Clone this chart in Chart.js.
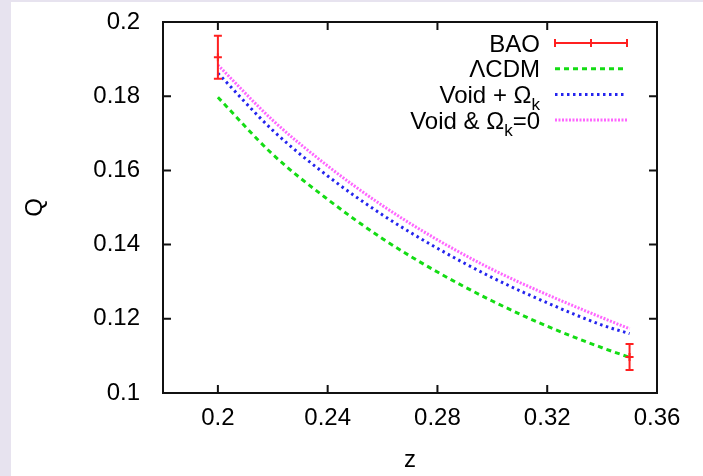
<!doctype html>
<html lang="en">
<head>
<meta charset="utf-8">
<title>Q against z</title>
<style>
  html, body { margin:0; padding:0; background:#e7e3ef; }
  #wrap { position:absolute; left:11px; top:2px; width:692px; height:474px; background:#fff; }
</style>
</head>
<body>
<div id="wrap"><canvas id="qChart" width="692" height="474"></canvas></div>
<script src="https://cdn.jsdelivr.net/npm/chart.js@4.4.0/dist/chart.umd.min.js"></script>
<script>
// values
var zValues   = [0.20, 0.22, 0.24, 0.26, 0.28, 0.30, 0.32, 0.34, 0.35];
var lcdmQ     = [0.1797, 0.1643, 0.1522, 0.1416, 0.1326, 0.1248, 0.1180, 0.1122, 0.1096];
var voidOkQ   = [0.1862, 0.1708, 0.1585, 0.1480, 0.1390, 0.1311, 0.1243, 0.1183, 0.1160];
var voidFlatQ = [0.1884, 0.1735, 0.1612, 0.1505, 0.1413, 0.1333, 0.1265, 0.1203, 0.1173];

var baoZ   = [0.20, 0.35];
var baoQ   = [0.1905, 0.1097];
var baoErr = [0.0058, 0.0035];

var xTicks = [0.2, 0.24, 0.28, 0.32, 0.36];
var yTicks = [0.1, 0.12, 0.14, 0.16, 0.18, 0.2];

var FONT = '"Liberation Sans", Arial, sans-serif';
var RED = '#ff2020', GREEN = '#14dc14', BLUE = '#2424ee', PINK = '#ff66ff';

function pairs(xs, ys) {
	return xs.map(function(x, i) { return {x:x, y:ys[i]}; });
}
function fmt(v) {
	return String(Number(v.toFixed(2)));
}

var series = [
	{label:'BAO', color:RED, dash:null},
	{label:'ΛCDM', color:GREEN, dash:[5, 4]},
	{label:'Void + Ωk', color:BLUE, dash:[2.5, 3.5]},
	{label:'Void & Ωk=0', color:PINK, dash:[2, 1.5]}
];

var legendText = [
	[{t:'BAO'}],
	[{t:'ΛCDM'}],
	[{t:'Void + Ω'}, {t:'k', sub:true}],
	[{t:'Void & Ω'}, {t:'k', sub:true}, {t:'=0'}]
];

var framePlugin = {
	id:'gnuFrame',
	afterDatasetsDraw:function(chart)
	{
		var ctx = chart.ctx;
		var a = chart.chartArea;
		var xs = chart.scales.x, ys = chart.scales.y;
		ctx.save();

		// error bars for BAO
		ctx.strokeStyle = RED;
		ctx.lineWidth = 2;
		baoZ.forEach(function(z, i)
		{
			var px = xs.getPixelForValue(z);
			var top = ys.getPixelForValue(baoQ[i] + baoErr[i]);
			var bot = ys.getPixelForValue(baoQ[i] - baoErr[i]);
			ctx.beginPath();
			ctx.moveTo(px, top); ctx.lineTo(px, bot);
			ctx.moveTo(px - 4, top); ctx.lineTo(px + 4, top);
			ctx.moveTo(px - 4, bot); ctx.lineTo(px + 4, bot);
			ctx.stroke();
		});

		// border and inward ticks on all sides
		ctx.strokeStyle = '#111';
		ctx.lineWidth = 2;
		ctx.strokeRect(a.left, a.top, a.right - a.left, a.bottom - a.top);
		ctx.beginPath();
		xTicks.forEach(function(v)
		{
			var px = xs.getPixelForValue(v);
			ctx.moveTo(px, a.bottom); ctx.lineTo(px, a.bottom - 8);
			ctx.moveTo(px, a.top); ctx.lineTo(px, a.top + 8);
		});
		yTicks.forEach(function(v)
		{
			var py = ys.getPixelForValue(v);
			ctx.moveTo(a.left, py); ctx.lineTo(a.left + 8, py);
			ctx.moveTo(a.right, py); ctx.lineTo(a.right - 8, py);
		});
		ctx.stroke();

		// legend, gnuplot style: text right aligned, sample to the right
		var textRight = 529, sx0 = 544, sx1 = 616;
		series.forEach(function(s, i)
		{
			var ly = 41 + i * 25.7;
			var parts = legendText[i];
			var w = 0;
			parts.forEach(function(p)
			{
				ctx.font = (p.sub ? '17px ' : '24px ') + FONT;
				p.w = ctx.measureText(p.t).width;
				w += p.w;
			});
			var x = textRight - w;
			ctx.fillStyle = '#000';
			ctx.textBaseline = 'alphabetic';
			ctx.textAlign = 'left';
			parts.forEach(function(p)
			{
				ctx.font = (p.sub ? '17px ' : '24px ') + FONT;
				ctx.fillText(p.t, x, ly + 8.5 + (p.sub ? 7 : 0));
				x += p.w;
			});

			ctx.strokeStyle = s.color;
			if (i === 0)
			{
				ctx.lineWidth = 2;
				ctx.setLineDash([]);
				ctx.beginPath();
				ctx.moveTo(sx0, ly); ctx.lineTo(sx1, ly);
				ctx.moveTo(sx0, ly - 4); ctx.lineTo(sx0, ly + 4);
				ctx.moveTo(sx1, ly - 4); ctx.lineTo(sx1, ly + 4);
				var mx = (sx0 + sx1) / 2;
				ctx.moveTo(mx - 4, ly); ctx.lineTo(mx + 4, ly);
				ctx.moveTo(mx, ly - 4); ctx.lineTo(mx, ly + 4);
				ctx.stroke();
			}
			else
			{
				ctx.lineWidth = 3;
				ctx.setLineDash(s.dash);
				ctx.beginPath();
				ctx.moveTo(sx0, ly); ctx.lineTo(sx1, ly);
				ctx.stroke();
			}
		});
		ctx.restore();
	}
};

function curve(label, data, color, dash)
{
	return {
		type:'line',
		label:label,
		data:data,
		borderColor:color,
		borderWidth:3,
		borderDash:dash,
		pointRadius:0,
		fill:false,
		cubicInterpolationMode:'monotone'
	};
}

new Chart(document.getElementById('qChart'), {
	type:'scatter',
	data:{
		datasets:[
			{
				label:'BAO',
				data:pairs(baoZ, baoQ),
				borderColor:RED,
				backgroundColor:RED,
				pointStyle:'cross',
				pointRadius:4,
				borderWidth:2,
				showLine:false
			},
			curve('ΛCDM', pairs(zValues, lcdmQ), GREEN, series[1].dash),
			curve('Void + Ωk', pairs(zValues, voidOkQ), BLUE, series[2].dash),
			curve('Void & Ωk=0', pairs(zValues, voidFlatQ), PINK, series[3].dash)
		]
	},
	options:{
		responsive:false,
		animation:false,
		layout:{padding:{top:20, right:46, bottom:0, left:0}},
		plugins:{legend:{display:false}, tooltip:{enabled:false}},
		scales:{
			x:{
				type:'linear',
				min:0.18,
				max:0.36,
				grid:{display:false},
				border:{display:false},
				afterBuildTicks:function(s) { s.ticks = xTicks.map(function(v) { return {value:v}; }); },
				afterFit:function(s) { s.height = 83; s.paddingLeft = 0; s.paddingRight = 0; },
				ticks:{
					padding:3,
					color:'#000',
					font:{family:FONT, size:24},
					maxRotation:0,
					callback:function(v) { return fmt(v); }
				},
				title:{display:true, text:'z', color:'#000', font:{family:FONT, size:24}, padding:{top:0, bottom:1}}
			},
			y:{
				type:'linear',
				min:0.1,
				max:0.2,
				grid:{display:false},
				border:{display:false},
				afterBuildTicks:function(s) { s.ticks = yTicks.map(function(v) { return {value:v}; }); },
				afterFit:function(s) { s.width = 152; s.paddingTop = 0; s.paddingBottom = 0; },
				ticks:{
					padding:15,
					color:'#000',
					font:{family:FONT, size:24},
					callback:function(v) { return fmt(v); }
				},
				title:{display:true, text:'Q', color:'#000', font:{family:FONT, size:24}, padding:{top:10, bottom:0}}
			}
		}
	},
	plugins:[framePlugin]
});
</script>
</body>
</html>
